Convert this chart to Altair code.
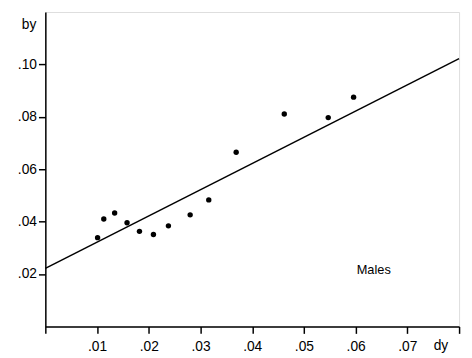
import altair as alt
import pandas as pd

# scatter data (dy, by) for Males
dy = [0.0101, 0.0113, 0.0134, 0.0158, 0.0182, 0.0209, 0.0238, 0.0280, 0.0316,
      0.0369, 0.0462, 0.0547, 0.0596]
by = [0.0339, 0.0410, 0.0433, 0.0396, 0.0363, 0.0351, 0.0384, 0.0426, 0.0483,
      0.0665, 0.0811, 0.0797, 0.0875]

# fitted regression line endpoints
line_x = [0.0, 0.08]
line_y = [0.0222, 0.1022]

x_ticks = [0.0, 0.01, 0.02, 0.03, 0.04, 0.05, 0.06, 0.07, 0.08]
y_ticks = [0.02, 0.04, 0.06, 0.08, 0.10]

label_text = ["Males"]
label_x = [0.0635]
label_y = [0.0214]

pts = pd.DataFrame({"dy": dy, "by": by})
ln = pd.DataFrame({"dy": line_x, "by": line_y})
lab = pd.DataFrame({"dy": label_x, "by": label_y, "t": label_text})

FONT = "Liberation Sans"

xscale = alt.Scale(domain=[0, 0.08], nice=False, zero=False)
yscale = alt.Scale(domain=[0, 0.12], nice=False, zero=False)

xaxis = alt.Axis(
    values=x_ticks,
    format=".2f",
    labelExpr="(datum.value < 0.005 || datum.value > 0.075) ? '' : replace(datum.label, '0.', '.')",
    grid=False, domainColor="black", domainWidth=1.5, tickColor="black",
    tickWidth=1.5, tickSize=7, labelPadding=6, labelFont=FONT, labelFontSize=14,
    labelColor="black", title="dy", titleFont=FONT, titleFontSize=14,
    titleFontWeight="normal", titleColor="black", titleX=402, titleY=12,
    titleBaseline="top", titleAlign="center",
    titleAnchor=None, labelFlush=False,
)
yaxis = alt.Axis(
    values=y_ticks,
    format=".2f",
    labelExpr="replace(datum.label, '0.', '.')",
    grid=False, domainColor="black", domainWidth=1.5, tickColor="black",
    tickWidth=1.5, tickSize=7, labelPadding=2, labelFont=FONT, labelFontSize=14,
    labelColor="black", title="by", titleFont=FONT, titleFontSize=14,
    titleFontWeight="normal", titleColor="black", titleAngle=0, titleX=-17,
    titleY=17, titleAlign="center", titleBaseline="alphabetic", labelFlush=False,
)

line = alt.Chart(ln).mark_line(color="black", strokeWidth=1.5).encode(
    x=alt.X("dy:Q", scale=xscale, axis=xaxis),
    y=alt.Y("by:Q", scale=yscale, axis=yaxis),
)
points = alt.Chart(pts).mark_circle(color="black", opacity=1, size=30).encode(
    x=alt.X("dy:Q", scale=xscale),
    y=alt.Y("by:Q", scale=yscale),
)
text = alt.Chart(lab).mark_text(font=FONT, fontSize=13, color="black").encode(
    x=alt.X("dy:Q", scale=xscale),
    y=alt.Y("by:Q", scale=yscale),
    text="t:N",
)

chart = alt.layer(line, points, text).properties(
    width=421, height=320,
    autosize=alt.AutoSizeParams(type="none"),
    padding={"left": 38, "top": 1, "right": 5, "bottom": 29},
).configure_view(stroke=None).configure(background="white")

chart.save("out.html", embed_options={"renderer": "svg", "actions": False})
